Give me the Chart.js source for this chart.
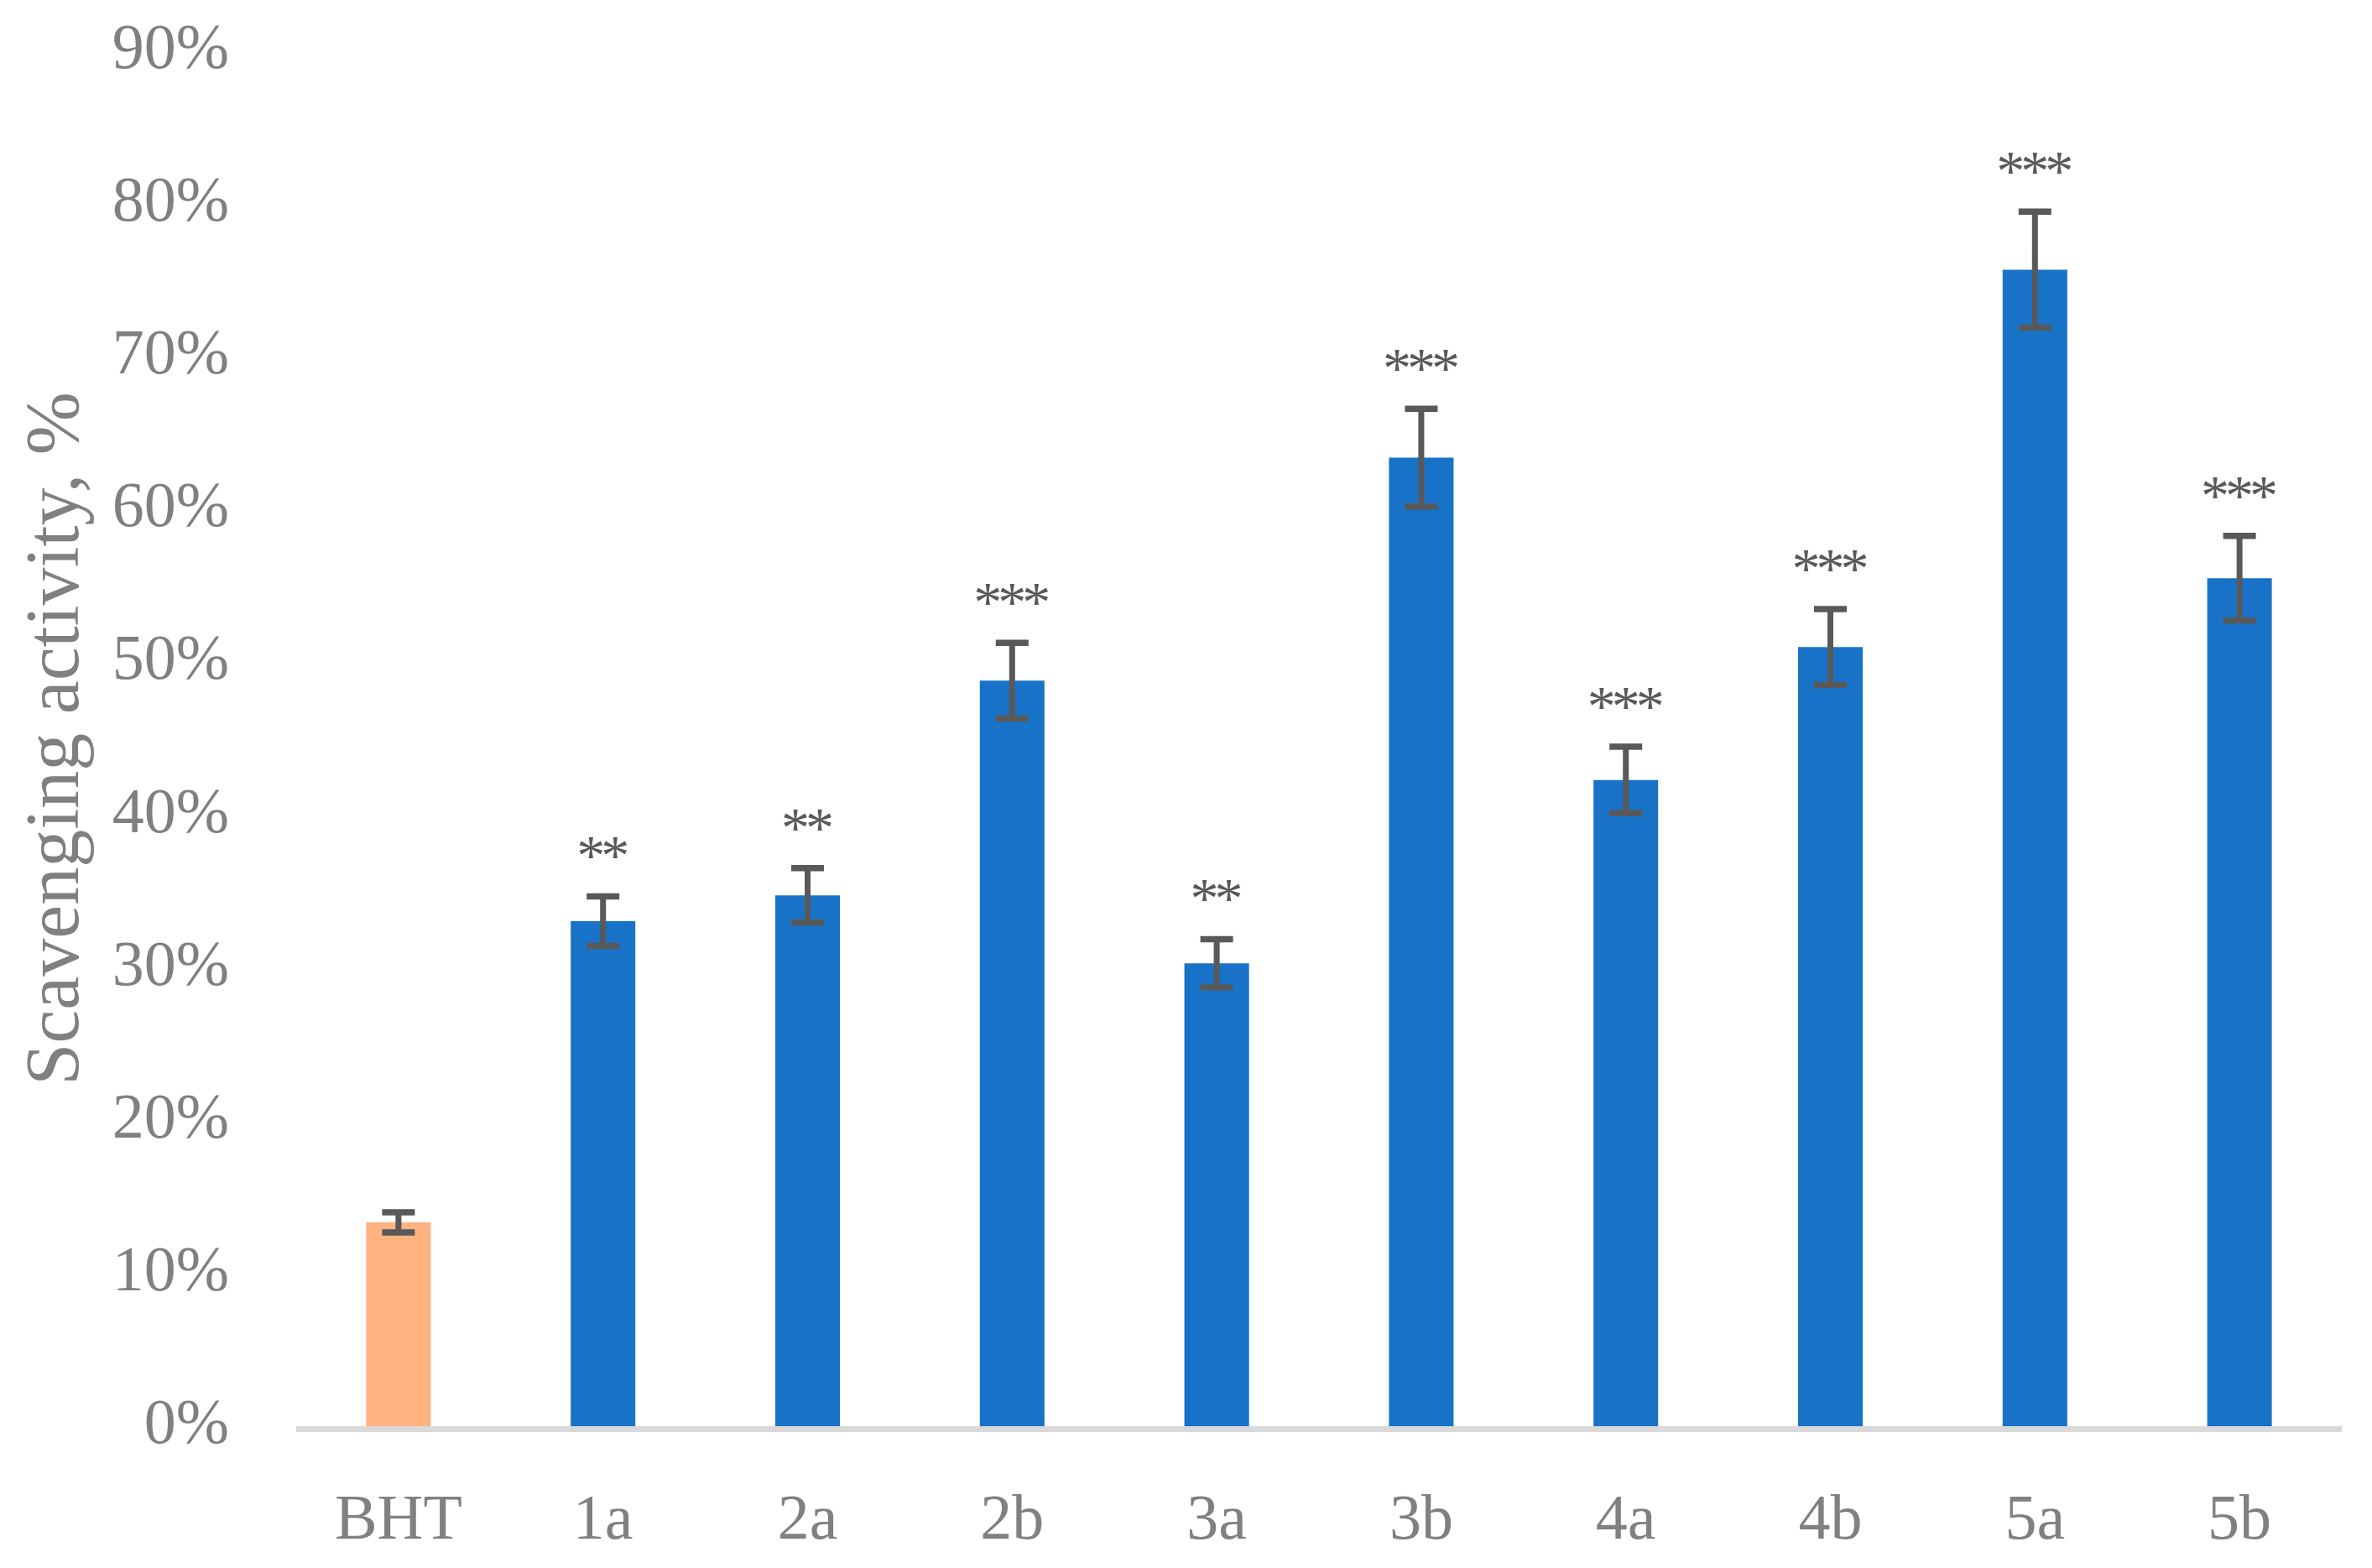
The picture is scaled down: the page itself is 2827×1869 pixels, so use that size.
<!DOCTYPE html>
<html>
<head>
<meta charset="utf-8">
<script src="https://cdn.jsdelivr.net/npm/chart.js@4/dist/chart.umd.min.js"></script>
<style>
  html, body { margin: 0; padding: 0; background: #ffffff; }
  #wrap { width: 2827px; height: 1869px; }
</style>
</head>
<body>
<div id="wrap"><canvas id="c" width="2827" height="1869"></canvas></div>
<script>
// ---- data ----
const categories = ['BHT', '1a', '2a', '2b', '3a', '3b', '4a', '4b', '5a', '5b'];
const activity   = [13.34, 33.06, 34.75, 48.8, 30.3, 63.4, 42.3, 51.0, 75.7, 55.5];
const errors     = [0.66, 1.62, 1.78, 2.48, 1.58, 3.2, 2.18, 2.48, 3.8, 2.77];
const significance = ['', '**', '**', '***', '**', '***', '***', '***', '***', '***'];
const yTicks = [0, 10, 20, 30, 40, 50, 60, 70, 80, 90];

const barColors = categories.map((c, i) => i === 0 ? '#FFB381' : '#1873C8');

const axisLinePlugin = {
  id: 'axisLine',
  beforeDatasetsDraw(chart) {
    const { ctx, chartArea } = chart;
    ctx.save();
    ctx.fillStyle = '#D9D9D9';
    ctx.fillRect(chartArea.left, chartArea.bottom, chartArea.right - chartArea.left, 7);
    ctx.restore();
  }
};

const errorBarPlugin = {
  id: 'errorBars',
  afterDatasetsDraw(chart) {
    const { ctx } = chart;
    const y = chart.scales.y;
    const meta = chart.getDatasetMeta(0);
    ctx.save();
    ctx.strokeStyle = '#595959';
    ctx.fillStyle = '#595959';
    meta.data.forEach((bar, i) => {
      const x = bar.x;
      const top = y.getPixelForValue(activity[i] + errors[i]);
      const bot = y.getPixelForValue(activity[i] - errors[i]);
      ctx.lineWidth = 7;
      ctx.beginPath();
      ctx.moveTo(x, top);
      ctx.lineTo(x, bot);
      ctx.stroke();
      ctx.lineWidth = 7.5;
      ctx.beginPath();
      ctx.moveTo(x - 19.5, top);
      ctx.lineTo(x + 19.5, top);
      ctx.moveTo(x - 19.5, bot);
      ctx.lineTo(x + 19.5, bot);
      ctx.stroke();
      if (significance[i]) {
        ctx.font = '68px "Liberation Serif"';
        ctx.textAlign = 'center';
        ctx.textBaseline = 'alphabetic';
        try { ctx.letterSpacing = '-5px'; } catch (e) {}
        ctx.fillText(significance[i], x - 2.5, top - 60 + 34);
        try { ctx.letterSpacing = '0px'; } catch (e) {}
      }
    });
    ctx.restore();
  }
};

new Chart(document.getElementById('c'), {
  type: 'bar',
  data: {
    labels: categories,
    datasets: [{
      data: activity,
      backgroundColor: barColors,
      borderWidth: 0,
      barPercentage: 0.316,
      categoryPercentage: 1.0
    }]
  },
  options: {
    responsive: false,
    animation: false,
    devicePixelRatio: 1,
    layout: { padding: { top: 61, right: 36, bottom: 0, left: 0 } },
    plugins: { legend: { display: false }, tooltip: { enabled: false } },
    scales: {
      x: {
        grid: { display: false, drawTicks: false, tickLength: 0 },
        border: { display: false },
        ticks: {
          color: '#808080',
          font: { family: '"Liberation Serif"', size: 76 },
          padding: 68,
          maxRotation: 0,
          autoSkip: false
        },
        afterFit(s) { s.height = 169; }
      },
      y: {
        min: 0,
        max: 90,
        grid: { display: false, drawTicks: false, tickLength: 0 },
        border: { display: false },
        afterBuildTicks(s) { s.ticks = yTicks.map(v => ({ value: v })); },
        ticks: {
          color: '#808080',
          font: { family: '"Liberation Serif"', size: 76 },
          padding: 80,
          callback: v => v + '%'
        },
        title: {
          display: true,
          text: 'Scavenging activity, %',
          color: '#808080',
          font: { family: '"Liberation Serif"', size: 90 },
          padding: { top: 15, bottom: 0 }
        },
        afterFit(s) { s.width = 353; s.paddingTop = 45; s.paddingBottom = 45; }
      }
    }
  },
  plugins: [axisLinePlugin, errorBarPlugin]
});
</script>
</body>
</html>
